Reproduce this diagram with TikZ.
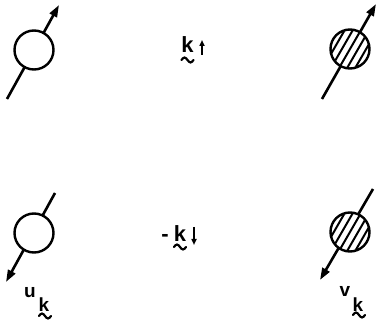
\documentclass[tikz,border=0pt]{standalone}
\usepackage{fontspec}
\setmainfont{Liberation Sans}
\usetikzlibrary{arrows.meta}
\begin{document}
\begin{tikzpicture}[x=1pt,y=-1pt,
  axis/.style={line width=2.6pt, -{Triangle[length=12pt,width=8pt]}},
  smallarrow/.style={line width=1.6pt, -{Triangle[length=6pt,width=5pt]}},
  ball/.style={circle, draw, line width=2.4pt, minimum size=39pt, inner sep=0pt, fill=white},
  lbl/.style={font=\fontsize{22}{24}\selectfont\bfseries, inner sep=0pt, anchor=base},
  sublbl/.style={font=\fontsize{19}{22}\selectfont\bfseries, inner sep=0pt, anchor=base},
  tld/.style={line width=2.2pt, line cap=round},
  hatchline/.style={line width=2pt},
  tildepic/.pic={\draw[tld] (-6,0) sin (-3,-2.5) cos (0,0) sin (3,2.5) cos (6,0);}]
\useasboundingbox (0,0) rectangle (378,326);

% coordinates of the four spin arrows
\coordinate (tlA) at (7,99);   \coordinate (tlB) at (59,5);
\coordinate (trA) at (322,99); \coordinate (trB) at (376,4);
\coordinate (blA) at (55,193); \coordinate (blB) at (6,282);
\coordinate (brA) at (373,189);\coordinate (brB) at (320,280);

\draw[axis] (tlA) -- (tlB);
\draw[axis] (trA) -- (trB);
\draw[axis] (blA) -- (blB);
\draw[axis] (brA) -- (brB);

\node[ball] (tl) at (34,50) {};
\node[ball] (tr) at (350,49) {};
\node[ball] (bl) at (34,233) {};
\node[ball] (br) at (350,232) {};

% hatching
\foreach \c in {tr,br}{
  \begin{scope}[shift={(\c)}, rotate=-30]
    \clip (0,0) circle (18.5pt);
    \foreach \k in {-14,-7,0,7,14}
      \draw[hatchline] (\k,-30) -- (\k,30);
  \end{scope}
}

% middle labels
\node[lbl] (ktop) at (187.5,53) {k};
\coordinate (ua1) at (202,55); \coordinate (ua2) at (202,40);
\draw[smallarrow] (ua1) -- (ua2);
\pic at (187.5,60) {tildepic};

\node[lbl] (minus) at (165,242) {-};
\node[lbl] (kbot) at (180,242) {k};
\coordinate (da1) at (194,227); \coordinate (da2) at (194,245);
\draw[smallarrow] (da1) -- (da2);
\pic at (180,247) {tildepic};

% bottom labels
\node[sublbl] (u) at (30,298) {u};
\node[sublbl] (uk) at (44,312) {k};
\pic at (45,316) {tildepic};

\node[sublbl] (v) at (345,297) {v};
\node[sublbl] (vk) at (358,312) {k};
\pic at (359,315) {tildepic};
\end{tikzpicture}
\end{document}
